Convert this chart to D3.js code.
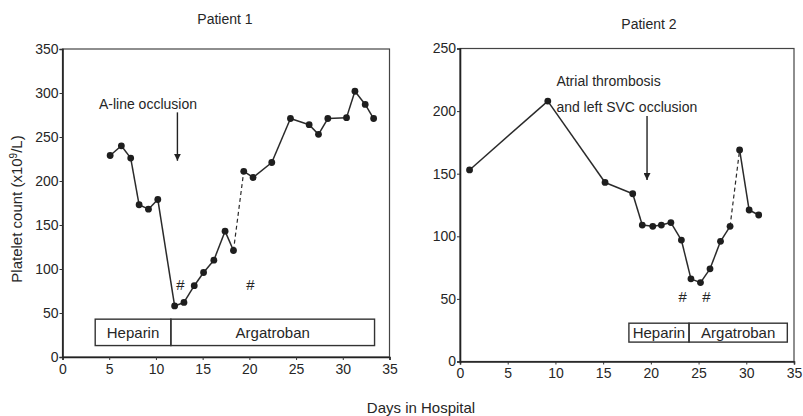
<!DOCTYPE html>
<html lang="en">

<head>
    <meta charset="UTF-8">
    <title>Platelet count</title>
    <style>
        body {
            margin: 0;
            background: #fff;
        }

        svg text {
            font-family: "Liberation Sans", Arial, sans-serif;
            fill: #262626;
        }
    </style>
</head>

<body>
    <script src="https://d3js.org/d3.v7.min.js"></script>
    <div id="chart"></div>
    <script>
        // Patient 1 (days, platelet count x10^9/L)
        var p1Days = [5.1, 6.3, 7.3, 8.2, 9.2, 10.2, 12.0, 13.0, 14.1, 15.1, 16.2, 17.4, 18.3,
            19.4, 20.4, 22.4, 24.4, 26.4, 27.4, 28.4, 30.4, 31.3, 32.4, 33.3];
        var p1Counts = [229, 240, 226, 173, 168, 179, 58, 62, 81, 96, 110, 143, 121,
            211, 204, 221, 271, 264, 253, 271, 272, 302, 287, 271];
        var p1Dashed = [12]; // segment 12 -> 13 is dashed

        // Patient 2
        var p2Days = [1.0, 9.2, 15.2, 18.1, 19.1, 20.2, 21.1, 22.1, 23.2, 24.2, 25.2, 26.2,
            27.3, 28.3, 29.3, 30.3, 31.3];
        var p2Counts = [153, 208, 143, 134, 109, 108, 109, 111, 97, 66, 63, 74, 96, 108, 169, 121, 117];
        var p2Dashed = [13];

        var xTicks = [0, 5, 10, 15, 20, 25, 30, 35];
        var p1YTicks = [0, 50, 100, 150, 200, 250, 300, 350];
        var p2YTicks = [0, 50, 100, 150, 200, 250];

        // therapy bars: [label, start day, end day]
        var p1Therapy = [["Heparin", 3.5, 11.6], ["Argatroban", 11.6, 33.4]];
        var p1TherapyRange = [13, 43];
        var p2Therapy = [["Heparin", 17.7, 24.0], ["Argatroban", 24.0, 34.3]];
        var p2TherapyRange = [15.5, 30.6];

        // annotations: text lines [text, day, value], arrow [day, from, to], hash marks [day, value]
        var p1Notes = [["A-line occlusion", 3.9, 282]];
        var p1Arrow = [12.3, 278, 223];
        var p1Hash = [[12.6, 82], [20.1, 82]];
        var p2Notes = [["Atrial thrombosis", 10.1, 220], ["and left SVC occlusion", 10.1, 199]];
        var p2Arrow = [19.6, 196, 145];
        var p2Hash = [[23.3, 52], [25.8, 52]];

        var svg = d3.select("#chart")
            .append("svg")
            .attr("width", 803)
            .attr("height", 416);

        svg.append("defs").append("marker")
            .attr("id", "head")
            .attr("viewBox", "0 0 10 10")
            .attr("refX", 10).attr("refY", 5)
            .attr("markerWidth", 7).attr("markerHeight", 7)
            .attr("markerUnits", "userSpaceOnUse")
            .attr("orient", "auto")
            .append("path")
            .attr("d", "M0,0 L10,5 L0,10 Z")
            .attr("fill", "#222");

        function drawPanel(opt) {
            var width = opt.width, height = opt.height;
            var g = svg.append("g")
                .attr("transform", "translate(" + opt.left + "," + opt.top + ")");

            var x = d3.scaleLinear().domain([0, 35]).range([0, width]);
            var y = d3.scaleLinear().domain([0, opt.yMax]).range([height, 0]);

            // frame
            g.append("rect")
                .attr("width", width).attr("height", height)
                .attr("fill", "none").attr("stroke", "#444").attr("stroke-width", 1.2);

            var xAxis = g.append("g")
                .attr("transform", "translate(0," + height + ")")
                .call(d3.axisBottom(x).tickValues(xTicks).tickSize(3).tickPadding(4));
            var yAxis = g.append("g")
                .call(d3.axisLeft(y).tickValues(opt.yTicks).tickSize(3).tickPadding(1));
            [xAxis, yAxis].forEach(function (a) {
                a.select(".domain").attr("stroke", "#222").attr("stroke-width", 1.6);
                a.selectAll(".tick line").attr("stroke", "#333");
                a.selectAll(".tick text")
                    .attr("font-size", 14)
                    .attr("font-family", "Liberation Sans, Arial, sans-serif")
                    .attr("fill", "#262626");
            });

            // title
            svg.append("text")
                .attr("x", opt.titleX).attr("y", opt.titleY)
                .attr("text-anchor", "middle")
                .attr("font-size", 14)
                .text(opt.title);

            // therapy bar
            var by0 = y(opt.therapyRange[1]), by1 = y(opt.therapyRange[0]);
            opt.therapy.forEach(function (t) {
                g.append("rect")
                    .attr("x", x(t[1])).attr("y", by0)
                    .attr("width", x(t[2]) - x(t[1])).attr("height", by1 - by0)
                    .attr("fill", "none").attr("stroke", "#333").attr("stroke-width", 1.4);
                g.append("text")
                    .attr("x", (x(t[1]) + x(t[2])) / 2)
                    .attr("y", (by0 + by1) / 2)
                    .attr("dy", "0.36em")
                    .attr("text-anchor", "middle")
                    .attr("font-size", opt.therapyFont)
                    .text(t[0]);
            });

            // line segments
            var pts = opt.days.map(function (d, i) { return [d, opt.counts[i]]; });
            var line = d3.line().x(function (d) { return x(d[0]); }).y(function (d) { return y(d[1]); });
            for (var i = 0; i < pts.length - 1; i++) {
                var dashed = opt.dashed.indexOf(i) >= 0;
                g.append("path")
                    .datum([pts[i], pts[i + 1]])
                    .attr("d", line)
                    .attr("fill", "none")
                    .attr("stroke", "#2a2a2a")
                    .attr("stroke-width", dashed ? 1.2 : 1.5)
                    .attr("stroke-dasharray", dashed ? "4,3" : null);
            }

            g.selectAll("circle")
                .data(pts)
                .enter()
                .append("circle")
                .attr("cx", function (d) { return x(d[0]); })
                .attr("cy", function (d) { return y(d[1]); })
                .attr("r", 3.4)
                .attr("fill", "#1e1e1e");

            // annotation text and arrow
            opt.notes.forEach(function (n) {
                g.append("text")
                    .attr("x", x(n[1])).attr("y", y(n[2]))
                    .attr("font-size", 14)
                    .text(n[0]);
            });
            g.append("line")
                .attr("x1", x(opt.arrow[0])).attr("x2", x(opt.arrow[0]))
                .attr("y1", y(opt.arrow[1])).attr("y2", y(opt.arrow[2]))
                .attr("stroke", "#222").attr("stroke-width", 1.4)
                .attr("marker-end", "url(#head)");

            opt.hash.forEach(function (h) {
                g.append("text")
                    .attr("x", x(h[0])).attr("y", y(h[1]))
                    .attr("dy", "0.36em")
                    .attr("text-anchor", "middle")
                    .attr("font-size", 15)
                    .attr("font-style", "italic")
                    .text("#");
            });
        }

        drawPanel({
            left: 62.5, top: 49, width: 327, height: 308, yMax: 350,
            yTicks: p1YTicks, days: p1Days, counts: p1Counts, dashed: p1Dashed,
            therapy: p1Therapy, therapyRange: p1TherapyRange, therapyFont: 15,
            notes: p1Notes, arrow: p1Arrow, hash: p1Hash,
            title: "Patient 1", titleX: 225, titleY: 24
        });

        drawPanel({
            left: 460, top: 48.5, width: 334, height: 313, yMax: 250,
            yTicks: p2YTicks, days: p2Days, counts: p2Counts, dashed: p2Dashed,
            therapy: p2Therapy, therapyRange: p2TherapyRange, therapyFont: 15,
            notes: p2Notes, arrow: p2Arrow, hash: p2Hash,
            title: "Patient 2", titleX: 649, titleY: 29
        });

        // shared axis titles
        svg.append("text")
            .attr("x", 421).attr("y", 413)
            .attr("text-anchor", "middle")
            .attr("font-size", 15)
            .text("Days in Hospital");

        var yLab = svg.append("text")
            .attr("transform", "translate(22,209) rotate(-90)")
            .attr("text-anchor", "middle")
            .attr("font-size", 15);
        yLab.append("tspan").text("Platelet count (x10");
        yLab.append("tspan").attr("font-size", 10).attr("dy", "-0.5em").text("9");
        yLab.append("tspan").attr("dy", "0.35em").text("/L)");
    </script>
</body>

</html>
